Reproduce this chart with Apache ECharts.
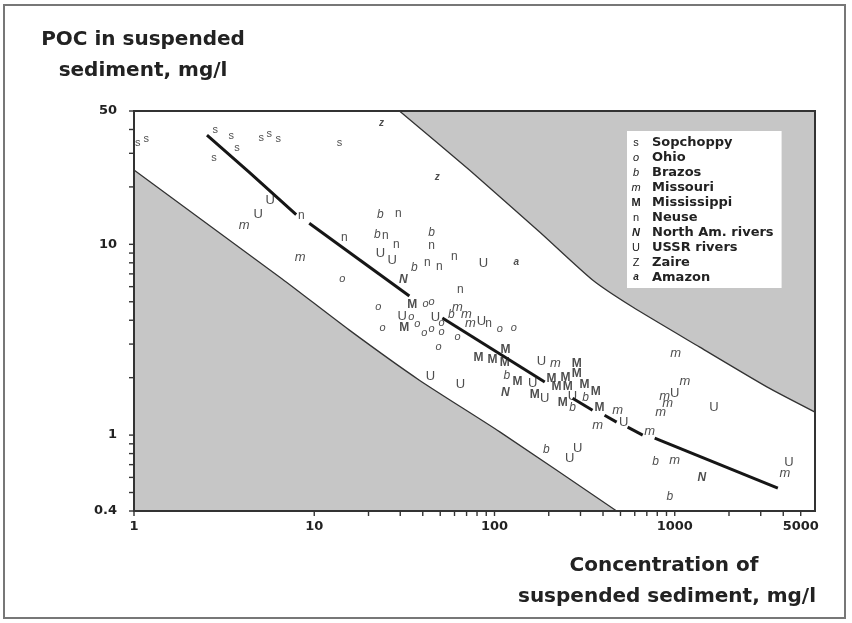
<!DOCTYPE html>
<html><head><meta charset="utf-8">
<script src="https://cdn.jsdelivr.net/npm/echarts@6/dist/echarts.min.js"></script>
<style>html,body{margin:0;padding:0;background:#fff}#c{width:852px;height:623px}</style>
</head><body><div id="c"></div>
<script>
// ---------- data ----------
const riverNames = ['Sopchoppy','Ohio','Brazos','Missouri','Mississippi','Neuse','North Am. rivers','USSR rivers','Zaire','Amazon'];
const plotLetters = ['s','o','b','m','M','n','N','U','z','a'];
const legendLetters = ['s','o','b','m','M','n','N','U','Z','a'];

const sopchoppy = [[1.05,34.0],[1.17,35.7],[2.82,39.7],[2.78,28.4],[3.46,37.0],[3.73,32.0],[5.08,36.1],[5.62,37.8],[6.31,35.6],[13.8,34.0]];
const ohio = [[14.3,6.58],[22.7,4.69],[23.9,3.64],[34.6,4.16],[37.3,3.82],[41.4,4.86],[44.7,4.98],[50.8,3.86],[40.8,3.43],[44.7,3.60],[50.8,3.47],[62.3,3.26],[48.9,2.89],[107,3.60],[128,3.64]];
const brazos = [[23.3,14.3],[22.4,11.3],[35.9,7.51],[44.7,11.5],[57.7,4.26],[117,2.04],[320,1.58],[271,1.39],[194,0.834],[784,0.722],[938,0.473]];
const missouri = [[4.08,12.5],[8.36,8.57],[62.3,4.69],[69.9,4.31],[73.6,3.87],[218,2.39],[482,1.35],[373,1.13],[726,1.05],[1013,2.69],[1137,1.92],[880,1.60],[914,1.46],[836,1.32],[1000,0.74],[4083,0.632]];
const mississippi = [[35.0,4.81],[31.6,3.64],[115,2.82],[81.5,2.56],[97.5,2.47],[114,2.39],[286,2.36],[286,2.09],[134,1.90],[207,1.97],[248,2.01],[221,1.79],[255,1.79],[316,1.83],[364,1.68],[167,1.62],[239,1.47],[383,1.39]];
const neuse = [[8.47,14.1],[14.7,10.9],[29.3,14.4],[24.8,11.1],[28.5,10.0],[44.7,9.8],[42.4,7.98],[49.5,7.60],[59.9,8.57],[64.7,5.75],[92.6,3.82]];
const northAm = [[31.2,6.50],[115,1.66],[1413,0.595]];
const ussr = [[5.7,16.9],[4.89,14.4],[23.3,9.0],[27.1,8.27],[86.9,7.98],[30.8,4.21],[47.0,4.16],[84.7,3.92],[182,2.42],[44.1,2.04],[64.7,1.85],[163,1.87],[190,1.56],[271,1.60],[521,1.17],[289,0.855],[261,0.757],[1000,1.66],[1648,1.39],[4300,0.722]];
const zaire = [[23.6,43.2],[48.2,22.5]];
const amazon = [[132,8.07]];
const riverData = [sopchoppy, ohio, brazos, missouri, mississippi, neuse, northAm, ussr, zaire, amazon];

// regression line (drawn in pieces, broken where it passes data letters)
const fitSegments = [
  [[2.54,37.4],[4.35,23.9],[7.94,14.3]],
  [[9.38,12.9],[33.7,5.36]],
  [[51.4,4.11],[190,1.90]],
  [[271,1.56],[350,1.35]],
  [[408,1.27],[476,1.17]],
  [[548,1.10],[664,1.0]],
  [[774,0.964],[3733,0.527]]
];
// envelope boundaries of the shaded zones
const upperBoundary = [[29.7,50],[72.6,24.5],[178,11.6],[350,6.5],[584,4.69],[1377,2.89],[3243,1.79],[6000,1.32]];
const lowerBoundary = [[1,24.5],[6.64,6.58],[15.6,3.56],[38.3,1.94],[107,1.04],[476,0.4]];

// axes
const xRange = [1, 6000];
const yRange = [0.4, 50];
const xTickValues = [1,10,20,30,40,50,60,70,80,90,100,200,300,400,500,600,700,800,900,1000,2000,3000,4000,5000];
const xTickLabels = [1,10,100,1000,5000];
const yTickValues = [0.4,0.5,0.6,0.7,0.8,0.9,1,2,3,4,5,6,7,8,9,10,20,30,40,50];
const yTickLabels = [0.4,1,10,50];

// ---------- styles ----------
const INK = '#222';
const markFont = {
  s:{fontSize:11,fontStyle:'normal',fontWeight:'normal'},
  o:{fontSize:11,fontStyle:'italic',fontWeight:'normal'},
  b:{fontSize:12,fontStyle:'italic',fontWeight:'normal'},
  m:{fontSize:13,fontStyle:'italic',fontWeight:'normal'},
  M:{fontSize:12,fontStyle:'normal',fontWeight:'bold'},
  n:{fontSize:12,fontStyle:'normal',fontWeight:'normal'},
  N:{fontSize:12,fontStyle:'italic',fontWeight:'bold'},
  U:{fontSize:13,fontStyle:'normal',fontWeight:'normal'},
  z:{fontSize:10,fontStyle:'italic',fontWeight:'bold'},
  Z:{fontSize:11,fontStyle:'normal',fontWeight:'normal'},
  a:{fontSize:10,fontStyle:'italic',fontWeight:'bold'}
};

const chart = echarts.init(document.getElementById('c'), null, {renderer:'canvas'});

const series = [];
// shaded zones
series.push({
  type:'line', name:'lowerZone', data: lowerBoundary, symbol:'none', smooth:0.2, z:1, silent:true,
  lineStyle:{color:'#333', width:1.3}, areaStyle:{color:'#c6c6c6', opacity:1, origin:'start'}
});
series.push({
  type:'line', name:'upperZone', data: upperBoundary, symbol:'none', smooth:0.2, z:1, silent:true,
  lineStyle:{color:'#333', width:1.3}, areaStyle:{color:'#c6c6c6', opacity:1, origin:'end'}
});
// regression line pieces
fitSegments.forEach((seg, i) => series.push({
  type:'line', name:'fit'+i, data: seg, symbol:'none', z:4, silent:true,
  lineStyle:{color:'#161616', width:3, cap:'butt'}
}));
// rivers as letter markers
riverNames.forEach((name, i) => {
  const L = plotLetters[i];
  const f = markFont[L];
  series.push({
    type:'scatter', name, data: riverData[i], symbol:'circle', symbolSize:1, z:5,
    itemStyle:{color:'rgba(0,0,0,0)'},
    label:{show:true, position:'inside', formatter:L, color:INK,
      fontFamily:'Liberation Sans, Arial, sans-serif', fontSize:f.fontSize, fontStyle:f.fontStyle, fontWeight:f.fontWeight}
  });
});
// axis ticks and labels (log axis ticks at custom values)
series.push({
  type:'custom', name:'xticks', silent:true, z:11, clip:false,
  data: xTickValues.map(v => [v, yRange[0]]), encode:{x:0, y:1},
  renderItem:(params, api) => { const p = api.coord([api.value(0), api.value(1)]);
    return {type:'line', shape:{x1:p[0], y1:p[1], x2:p[0], y2:p[1]+5}, style:{stroke:'#333', lineWidth:1.4}}; }
});
series.push({
  type:'custom', name:'yticks', silent:true, z:11, clip:false,
  data: yTickValues.map(v => [xRange[0], v]), encode:{x:0, y:1},
  renderItem:(params, api) => { const p = api.coord([api.value(0), api.value(1)]);
    return {type:'line', shape:{x1:p[0]-5, y1:p[1], x2:p[0], y2:p[1]}, style:{stroke:'#333', lineWidth:1.4}}; }
});
series.push({
  type:'custom', name:'xlabels', silent:true, z:11, clip:false,
  data: xTickLabels.map(v => [v, yRange[0]]), encode:{x:0, y:1},
  renderItem:(params, api) => { const v = api.value(0); const p = api.coord([v, api.value(1)]);
    return {type:'text', x:p[0], y:p[1]+16, style:{text:String(v), align:'center', verticalAlign:'middle', fill:INK, font:'bold 13px "DejaVu Sans"'}}; }
});
series.push({
  type:'custom', name:'ylabels', silent:true, z:11, clip:false,
  data: yTickLabels.map(v => [xRange[0], v]), encode:{x:0, y:1},
  renderItem:(params, api) => { const v = api.value(1); const p = api.coord([api.value(0), v]);
    return {type:'text', x:p[0]-17, y:p[1], style:{text:String(v), align:'right', verticalAlign:'middle', fill:INK, font:'bold 13px "DejaVu Sans"'}}; }
});

const rich = {n:{fontSize:13, fontWeight:'bold', fontFamily:'DejaVu Sans', color:'#222', padding:[0,0,0,12], lineHeight:15}};
legendLetters.forEach((L, i) => { const f = markFont[L];
  rich['k'+i] = {width:8, align:'center', fontSize:Math.min(f.fontSize,11), fontStyle:f.fontStyle, fontWeight:f.fontWeight,
    fontFamily:'Liberation Sans, Arial, sans-serif', color:INK, lineHeight:15}; });

chart.setOption({
  animation:false,
  backgroundColor:'#fff',
  grid:{left:134, top:111, right:37, bottom:112, show:true, borderColor:'#333', borderWidth:2, backgroundColor:'transparent', z:10},
  xAxis:{type:'log', logBase:10, min:xRange[0], max:xRange[1], axisLine:{show:false}, axisTick:{show:false}, axisLabel:{show:false}, splitLine:{show:false}},
  yAxis:{type:'log', logBase:10, min:yRange[0], max:yRange[1], axisLine:{show:false}, axisTick:{show:false}, axisLabel:{show:false}, splitLine:{show:false}},
  legend:{
    data: riverNames, orient:'vertical', left:627, top:131, icon:'none', itemWidth:0, itemHeight:15, itemGap:0,
    padding:[4,8,3,0], backgroundColor:'#fff', selectedMode:false, z:8,
    formatter: name => { const i = riverNames.indexOf(name); return '{k'+i+'|'+legendLetters[i]+'}{n|'+name+'}'; },
    textStyle:{rich, lineHeight:15}
  },
  graphic:[
    {type:'rect', shape:{x:4, y:5, width:841, height:613}, style:{fill:'none', stroke:'#777', lineWidth:2}, silent:true},
    {type:'text', x:143, y:40, style:{text:'POC in suspended', align:'center', verticalAlign:'middle', fill:INK, font:'bold 20px "DejaVu Sans"'}},
    {type:'text', x:143, y:71, style:{text:'sediment, mg/l', align:'center', verticalAlign:'middle', fill:INK, font:'bold 20px "DejaVu Sans"'}},
    {type:'text', x:664, y:566, style:{text:'Concentration of', align:'center', verticalAlign:'middle', fill:INK, font:'bold 20px "DejaVu Sans"'}},
    {type:'text', x:667, y:597, style:{text:'suspended sediment, mg/l', align:'center', verticalAlign:'middle', fill:INK, font:'bold 20px "DejaVu Sans"'}}
  ],
  series
});
</script></body></html>
